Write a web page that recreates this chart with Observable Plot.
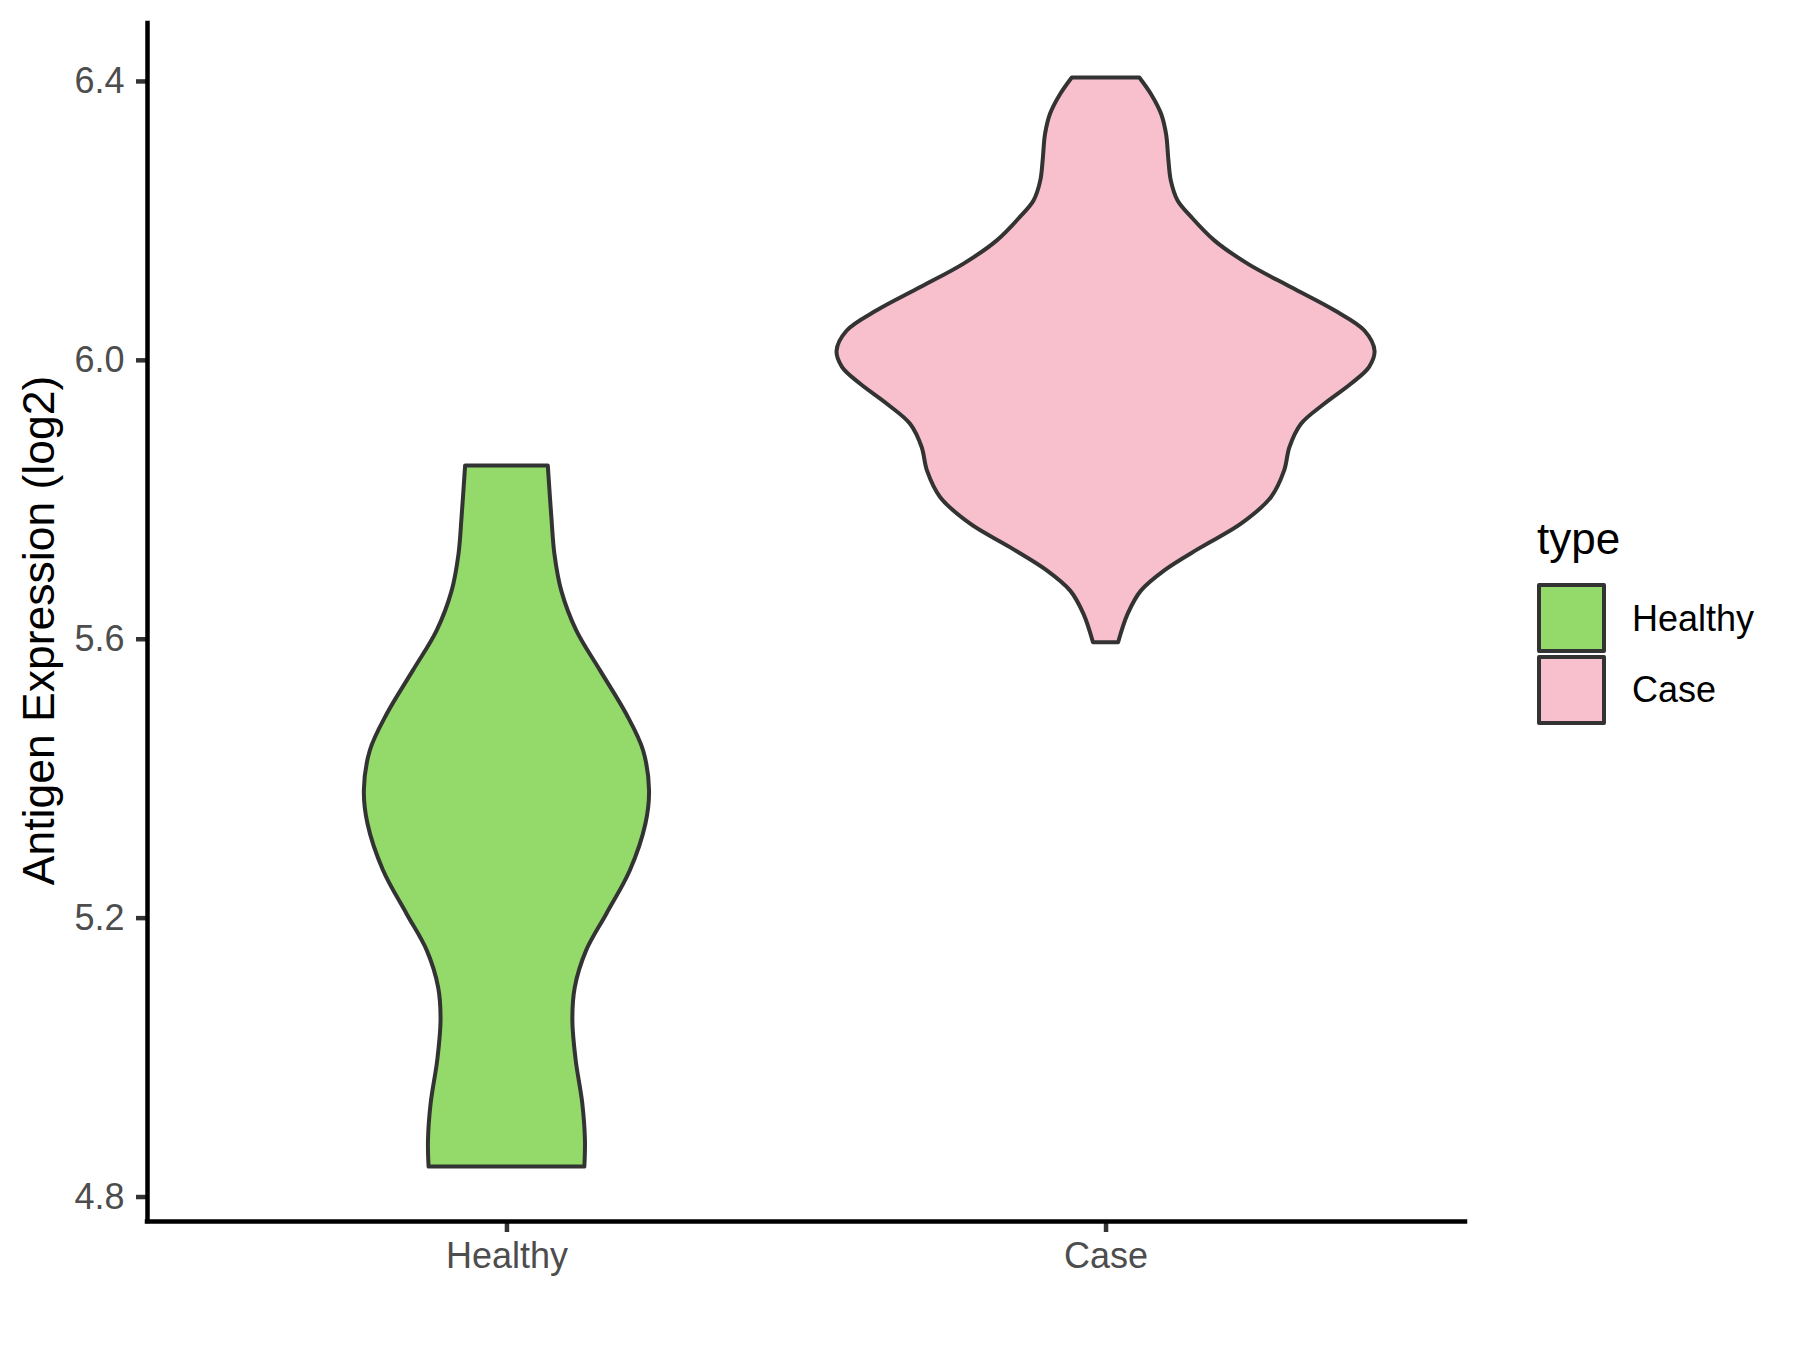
<!DOCTYPE html>
<html>
<head>
<meta charset="utf-8">
<script src="https://cdn.jsdelivr.net/npm/d3@7"></script>
<script src="https://cdn.jsdelivr.net/npm/@observablehq/plot@0.6"></script>
<style>
  html, body { margin: 0; padding: 0; background: #ffffff; }
  #wrap { position: relative; width: 1800px; height: 1350px; font-family: Arial, "Liberation Sans", sans-serif; }
  #wrap svg { position: absolute; left: 0; top: 0; }
  .lg { position: absolute; white-space: nowrap; line-height: 1; color: #000; }
  .key { position: absolute; box-sizing: border-box; border: 4px solid #333333; border-radius: 2px; }
</style>
</head>
<body>
<div id="wrap"></div>
<script>
// ---- data ----
const categories = ["Healthy", "Case"];
const positions = [1, 2];
const fills = ["#94DA6A", "#F7C0CC"];
const legendTitle = "type";
const yTitle = "Antigen Expression (log2)";
const yTicks = [4.8, 5.2, 5.6, 6.0, 6.4];

// violin outlines: expression value and half-width (in category units)
const healthyY = [4.843, 4.881, 4.934, 4.996, 5.053, 5.100, 5.153, 5.206, 5.268, 5.335, 5.383, 5.440, 5.492, 5.555, 5.612, 5.669, 5.722, 5.774, 5.8485];
const healthyHalfWidth = [0.130, 0.131, 0.1265, 0.1155, 0.110, 0.114, 0.133, 0.167, 0.206, 0.232, 0.238, 0.228, 0.200, 0.156, 0.1165, 0.0915, 0.080, 0.075, 0.069];

const caseY = [5.595, 5.636, 5.669, 5.698, 5.731, 5.765, 5.803, 5.841, 5.875, 5.908, 5.937, 5.966, 5.990, 6.013, 6.042, 6.071, 6.104, 6.138, 6.171, 6.205, 6.229, 6.257, 6.286, 6.324, 6.353, 6.381, 6.405];
const caseHalfWidth = [0.021, 0.037, 0.059, 0.098, 0.159, 0.226, 0.276, 0.298, 0.307, 0.326, 0.365, 0.410, 0.440, 0.449, 0.432, 0.382, 0.310, 0.237, 0.182, 0.143, 0.120, 0.109, 0.105, 0.101, 0.0927, 0.076, 0.0564];

// ---- build table ----
const profiles = [[healthyY, healthyHalfWidth], [caseY, caseHalfWidth]];
const rows = [];
profiles.forEach(([ys, hws], i) => {
  ys.forEach((v, j) => rows.push({type: categories[i], value: v, left: positions[i] - hws[j], right: positions[i] + hws[j]}));
});

// ggplot-like 5% expansion of the continuous axis
const allY = healthyY.concat(caseY);
const yMin = d3.min(allY), yMax = d3.max(allY), pad = (yMax - yMin) * 0.05;
const yDomain = [yMin - pad, yMax + pad];
const xDomain = [positions[0] - 0.6, positions[positions.length - 1] + 0.6];

const fontFamily = 'Arial, "Liberation Sans", sans-serif';

const chart = Plot.plot({
  width: 1800,
  height: 1350,
  marginLeft: 147,
  marginRight: 335,
  marginTop: 23,
  marginBottom: 129,
  style: {fontFamily, fontSize: "36px", background: "#ffffff", overflow: "visible"},
  x: {domain: xDomain, axis: null},
  y: {domain: yDomain, axis: null},
  color: {domain: categories, range: fills},
  marks: [
    Plot.areaX(rows, {
      y: "value", x1: "left", x2: "right", z: "type", fill: "type",
      stroke: "#333333", strokeWidth: 4, curve: "catmull-rom", strokeLinejoin: "round"
    }),
    Plot.axisY({
      ticks: yTicks, tickSize: 11, tickPadding: 12, tickFormat: d3.format(".1f"),
      stroke: "#333333", fill: "#4D4D4D", strokeWidth: 4.5, fontSize: 36, label: null
    }),
    Plot.axisX({
      ticks: positions, tickSize: 11, tickPadding: 10,
      tickFormat: d => categories[positions.indexOf(d)],
      stroke: "#333333", fill: "#4D4D4D", strokeWidth: 4.5, fontSize: 36, label: null
    }),
    Plot.ruleX([xDomain[0]], {stroke: "#000000", strokeWidth: 4.5, strokeLinecap: "square"}),
    Plot.ruleY([yDomain[0]], {stroke: "#000000", strokeWidth: 4.5, strokeLinecap: "square"}),
    Plot.text([yTitle], {
      text: d => d, frameAnchor: "left", textAnchor: "middle", lineAnchor: "middle",
      rotate: -90, dx: -108, dy: 8, fontSize: 44.5, fill: "#000000"
    })
  ]
});

const wrap = document.getElementById("wrap");
wrap.appendChild(chart);

// ---- legend (HTML overlay) ----
function addText(txt, left, top, size) {
  const d = document.createElement("div");
  d.className = "lg";
  d.textContent = txt;
  d.style.left = left + "px";
  d.style.top = top + "px";
  d.style.fontSize = size + "px";
  wrap.appendChild(d);
}
addText(legendTitle, 1537, 517, 44);
const keyTops = [583, 655];
const labelTops = [600.5, 671.5];
categories.forEach((c, i) => {
  const k = document.createElement("div");
  k.className = "key";
  k.style.left = "1537px";
  k.style.top = keyTops[i] + "px";
  k.style.width = "69px";
  k.style.height = "70px";
  k.style.background = fills[i];
  wrap.appendChild(k);
  addText(c, 1632, labelTops[i], 36);
});
</script>
</body>
</html>
